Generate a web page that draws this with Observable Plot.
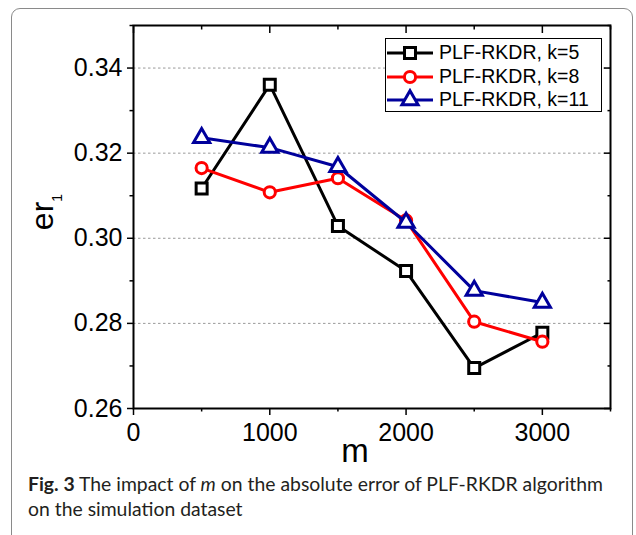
<!DOCTYPE html>
<html><head><meta charset="utf-8">
<script src="https://cdn.jsdelivr.net/npm/d3@7"></script>
<script src="https://cdn.jsdelivr.net/npm/@observablehq/plot@0.6"></script>
<style>
body{margin:0;background:#fff;}
#wrap{position:relative;width:636px;height:535px;overflow:hidden;background:#fff;}
#border{position:absolute;left:11px;top:8px;width:622px;height:545px;border:1.3px solid #8a8a8a;border-radius:9px;box-sizing:border-box;}
#chart{position:absolute;left:0;top:0;}
#legend{position:absolute;left:385px;top:38px;width:217px;height:74px;border:1.5px solid #000;box-sizing:border-box;background:#fff;font-family:"Liberation Sans",Arial,sans-serif;font-size:19.5px;color:#000;}
.row{position:absolute;left:0;height:24px;display:flex;align-items:center;white-space:nowrap;}
.row svg{display:block;margin-left:0px;}
.row span{margin-left:4px;}
#caption{position:absolute;left:28px;top:472px;font-family:Lato,"Open Sans",sans-serif;font-size:18.5px;line-height:25px;color:#231f20;white-space:nowrap;transform-origin:0 0;}
</style></head>
<body>
<div id="wrap">
  <div id="border"></div>
  <div id="chart"></div>
  <div id="legend"></div>
  <div id="caption"><div id="cap1"><b>Fig. 3</b> The impact of <i>m</i> on the absolute error of PLF-RKDR algorithm</div><div>on the simulation dataset</div></div>
</div>
<script>
// ---- data ----
const mValues = [500, 1000, 1500, 2000, 2500, 3000];
const k5  = [0.3117, 0.3361, 0.3029, 0.2923, 0.2695, 0.2778];
const k8  = [0.3165, 0.3108, 0.3141, 0.3042, 0.2804, 0.2757];
const k11 = [0.3236, 0.3213, 0.3168, 0.3037, 0.2877, 0.2849];
const seriesNames = ["PLF-RKDR, k=5", "PLF-RKDR, k=8", "PLF-RKDR, k=11"];
const seriesColors = ["#000000", "#ff0000", "#00009c"];
const seriesSymbols = ["square", "circle", "triangle"];
const xTicks = [0, 1000, 2000, 3000];
const xMinor = [500, 1500, 2500, 3500];
const yTicks = [0.26, 0.28, 0.30, 0.32, 0.34];
const yMinor = [0.27, 0.29, 0.31, 0.33, 0.35];
const gridY = [0.28, 0.30, 0.32, 0.34];
const xLabel = "m";
const yLabelMain = "er";
const yLabelSub = "1";

const seriesValues = [k5, k8, k11];
const rows = [];
seriesValues.forEach((vals, i) => vals.forEach((v, j) => rows.push({m: mValues[j], v, s: seriesNames[i]})));

const symR = {square: 6.2, circle: 5.6, triangle: 6.0};
const marks = [
  Plot.ruleY(gridY, {stroke: "#999", strokeDasharray: "2.5,2.5", strokeWidth: 1}),
  // bottom axis
  Plot.axisX({ticks: xTicks, tickSize: 7, tickPadding: 8, tickFormat: d3.format("d"), fontSize: 25, label: null, strokeWidth: 1.5}),
  Plot.axisX({ticks: xMinor, tickSize: 3.5, tickFormat: null, text: null, label: null, strokeWidth: 1.5}),
  // top axis (inward)
  Plot.axisX({anchor: "top", ticks: xTicks, tickSize: -7, text: null, label: null, strokeWidth: 1.5}),
  Plot.axisX({anchor: "top", ticks: xMinor, tickSize: -3.5, text: null, label: null, strokeWidth: 1.5}),
  // left axis
  Plot.axisY({ticks: yTicks, tickSize: 6, tickPadding: 5, tickFormat: d3.format(".2f"), fontSize: 25, label: null, strokeWidth: 1.5}),
  Plot.axisY({ticks: yMinor, tickSize: 3.5, text: null, label: null, strokeWidth: 1.5}),
  // right axis (inward)
  Plot.axisY({anchor: "right", ticks: yTicks, tickSize: -7, text: null, label: null, strokeWidth: 1.5}),
  Plot.axisY({anchor: "right", ticks: yMinor, tickSize: -3.5, text: null, label: null, strokeWidth: 1.5}),
  Plot.frame({stroke: "#000", strokeWidth: 2}),
];
seriesNames.forEach((name, i) => {
  const data = rows.filter(d => d.s === name);
  marks.push(Plot.line(data, {x: "m", y: "v", stroke: seriesColors[i], strokeWidth: 3}));
  marks.push(Plot.dot(data, {x: "m", y: "v", stroke: seriesColors[i], fill: "#fff", strokeWidth: 3,
    symbol: () => seriesSymbols[i], r: symR[seriesSymbols[i]]}));
});
marks.push(Plot.text([xLabel], {frameAnchor: "bottom", text: d => d, dy: 53, dx: -17, lineAnchor: "bottom", fontSize: 33}));

const chart = Plot.plot({
  width: 636, height: 470,
  marginLeft: 133, marginRight: 26, marginTop: 25, marginBottom: 62,
  x: {domain: [0, 3500]},
  y: {domain: [0.26, 0.35]},
  style: {fontFamily: "Liberation Sans, Arial, sans-serif", color: "#000", background: "transparent", overflow: "visible"},
  marks
});
document.getElementById("chart").appendChild(chart);

// y label with subscript
const svg = d3.select(chart);
const t = svg.append("text")
  .attr("transform", "translate(53,212) rotate(-90)")
  .attr("text-anchor", "middle")
  .attr("font-family", "Liberation Sans, Arial, sans-serif")
  .attr("fill", "#000");
t.append("tspan").attr("font-size", 32).text(yLabelMain);
t.append("tspan").attr("font-size", 14).attr("dy", 9).text(yLabelSub);

// legend
const leg = document.getElementById("legend");
const rowCenters = [15.3, 39.3, 62];
seriesNames.forEach((name, i) => {
  const row = document.createElement("div");
  row.className = "row";
  row.style.top = (rowCenters[i] - 12 - 1.5) + "px";
  const s = d3.create("svg").attr("width", 49).attr("height", 24);
  s.append("line").attr("x1", 1).attr("x2", 47).attr("y1", 12).attr("y2", 12).attr("stroke", seriesColors[i]).attr("stroke-width", 3);
  const sym = {square: d3.symbolSquare, circle: d3.symbolCircle, triangle: d3.symbolTriangle}[seriesSymbols[i]];
  const r = symR[seriesSymbols[i]];
  s.append("path").attr("d", d3.symbol(sym, Math.PI * r * r)()).attr("transform", "translate(24,12)")
    .attr("fill", "#fff").attr("stroke", seriesColors[i]).attr("stroke-width", 3);
  row.appendChild(s.node());
  const sp = document.createElement("span");
  sp.textContent = name;
  row.appendChild(sp);
  leg.appendChild(row);
});

// caption width fit
const cap = document.getElementById("caption");
const w = document.getElementById("cap1").getBoundingClientRect().width;
cap.style.transform = `scaleX(${575 / w})`;
</script>
</body></html>
